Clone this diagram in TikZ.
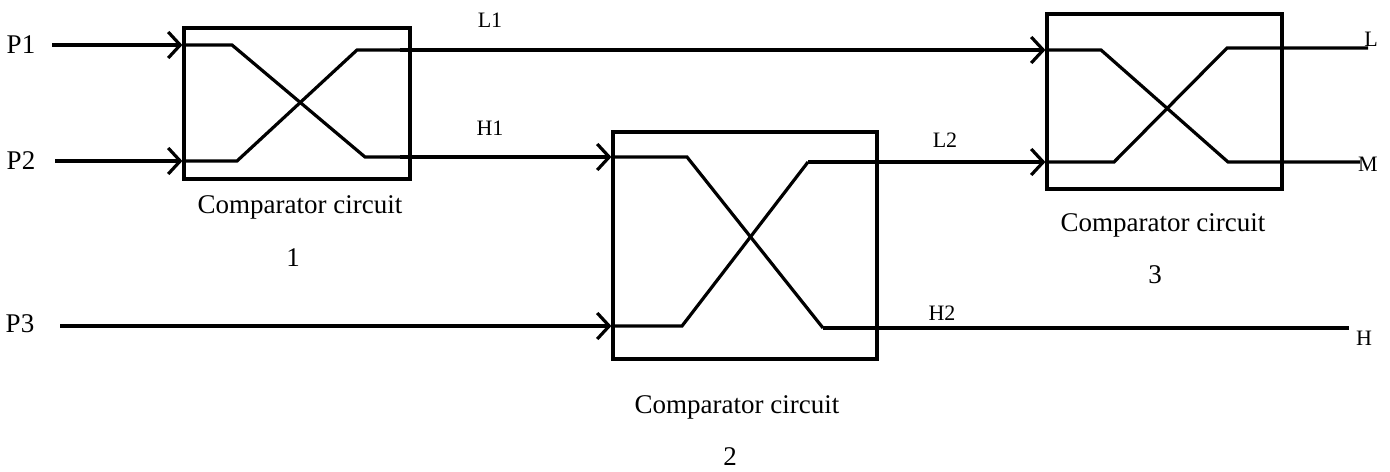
\documentclass[tikz,border=0pt]{standalone}
\usepackage{fontspec}
\setmainfont{Liberation Serif}
\usepackage{tikz}
\usetikzlibrary{arrows.meta,calc,positioning}
\definecolor{Ink}{HTML}{000000}
\tikzset{
  cbox/.style={
    rectangle, draw=Ink, line width=1.6pt, inner sep=0pt
  },
  wire/.style={line width=1.6pt, draw=Ink, line join=miter},
  feed/.style={-{Straight Barb[length=6pt,width=13pt]}, line width=1.6pt, draw=Ink},
  biglabel/.style={font=\fontsize{13.5}{15}\selectfont, inner sep=0pt},
  smalllabel/.style={font=\fontsize{11}{13}\selectfont, inner sep=0pt}
}

\begin{document}
\begin{tikzpicture}[x=0.5pt,y=-0.5pt]
    \useasboundingbox (0,0) rectangle (1390,471);
    % comparators
    \node[cbox, minimum width=113pt, minimum height=75.5pt] (b1) at (297,103.5) {};
    \node[cbox, minimum width=132pt, minimum height=113.5pt] (b2) at (745,245.5) {};
    \node[cbox, minimum width=117.5pt, minimum height=87.5pt] (b3) at (1164.5,101.5) {};
    \node[biglabel] (c1) at (300,207) {Comparator circuit};
    \node[biglabel] (n1) at (293,258) {1};
    \node[biglabel] (c2) at (737,407) {Comparator circuit};
    \node[biglabel] (n2) at (730,457) {2};
    \node[biglabel] (c3) at (1163,225) {Comparator circuit};
    \node[biglabel] (n3) at (1155,275) {3};
    % inputs
    \node[biglabel] (p1) at (21,45) {P1};
    \node[biglabel] (p2) at (21,161) {P2};
    \node[biglabel] (p3) at (20,324) {P3};
    \coordinate (p1s) at (52,45);
    \coordinate (p2s) at (55,161);
    \coordinate (p3s) at (60,326);
    \draw[feed] (p1s) -- (p1s -| b1.west);
    \draw[feed] (p2s) -- (p2s -| b1.west);
    \draw[feed] (p3s) -- (p3s -| b2.west);
    % comparator 1
    \draw[wire] (p1s -| b1.west) -- (232,45) -- (365,157) -- (400,157);
    \draw[wire] (p2s -| b1.west) -- (237,161) -- (357,50) -- (400,50);
    \draw[feed] (400,157) coordinate (h1s) -- (h1s -| b2.west);
    \draw[feed] (400,50) coordinate (l1s) -- (l1s -| b3.west);
    \node[smalllabel] (l1) at (490,20) {L1};
    \node[smalllabel] (h1) at (490,128) {H1};
    % comparator 2
    \draw[wire] (h1s -| b2.west) -- (687,157) -- (823,328) coordinate (h2s);
    \draw[wire] (p3s -| b2.west) -- (682,326) -- (808,162) coordinate (l2s);
    \draw[feed] (l2s) -- (l2s -| b3.west);
    \coordinate (hend) at (1349,328);
    \draw[wire] (h2s) -- (hend);
    \node[smalllabel] (l2) at (945,140) {L2};
    \node[smalllabel] (h2) at (942,313) {H2};
    % comparator 3
    \coordinate (mend) at (1360,162);
    \coordinate (lend) at (1368,48);
    \draw[wire] (l1s -| b3.west) -- (1101,50) -- (1228,162) -- (mend);
    \draw[wire] (l2s -| b3.west) -- (1114,162) -- (1227,48) -- (lend);
    \node[smalllabel] (lo) at (1371,39) {L};
    \node[smalllabel] (mo) at (1368,164) {M};
    \node[smalllabel] (ho) at (1364,338) {H};
  \end{tikzpicture}
\end{document}
